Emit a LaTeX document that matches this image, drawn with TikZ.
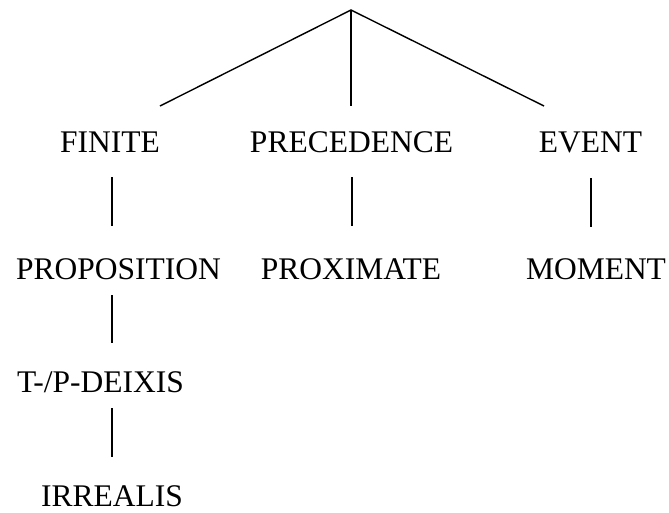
\documentclass[tikz,border=0pt]{standalone}
\usepackage{fontspec}
\setmainfont{Liberation Serif}
\begin{document}
\begin{tikzpicture}[x=1pt,y=-1pt,
  lbl/.style={anchor=base,inner sep=0pt,font=\fontsize{31.5}{38}\selectfont},
  edge/.style={line width=1.4pt,line cap=butt}]
\useasboundingbox (0,0) rectangle (669,512);
% labels
\node[lbl] (fin) at (110,152) {FINITE};
\node[lbl] (pre) at (351.5,152) {PRECEDENCE};
\node[lbl] (eve) at (590.5,152) {EVENT};
\node[lbl] (prop) at (118.5,279) {PROPOSITION};
\node[lbl] (prox) at (351,279) {PROXIMATE};
\node[lbl] (mom) at (596,279) {MOMENT};
\node[lbl] (deix) at (100.5,392) {T-/P-DEIXIS};
\node[lbl] (irr) at (112,506) {IRREALIS};
% connector ends
\coordinate (root) at (351,10);
\coordinate (finT) at (160,106);
\coordinate (preT) at (351,106);
\coordinate (eveT) at (544,106);
\coordinate (finB) at (112,177);
\coordinate (propT) at (112,226);
\coordinate (preB) at (352,177);
\coordinate (proxT) at (352,226);
\coordinate (eveB) at (591,178);
\coordinate (momT) at (591,227);
\coordinate (propB) at (112,295);
\coordinate (deixT) at (112,343);
\coordinate (deixB) at (112,408);
\coordinate (irrT) at (112,457);
% connectors
\draw[edge] (finT) -- (root) -- (eveT);
\draw[edge] (root) -- (preT);
\draw[edge] (finB) -- (propT);
\draw[edge] (preB) -- (proxT);
\draw[edge] (eveB) -- (momT);
\draw[edge] (propB) -- (deixT);
\draw[edge] (deixB) -- (irrT);
\end{tikzpicture}
\end{document}
